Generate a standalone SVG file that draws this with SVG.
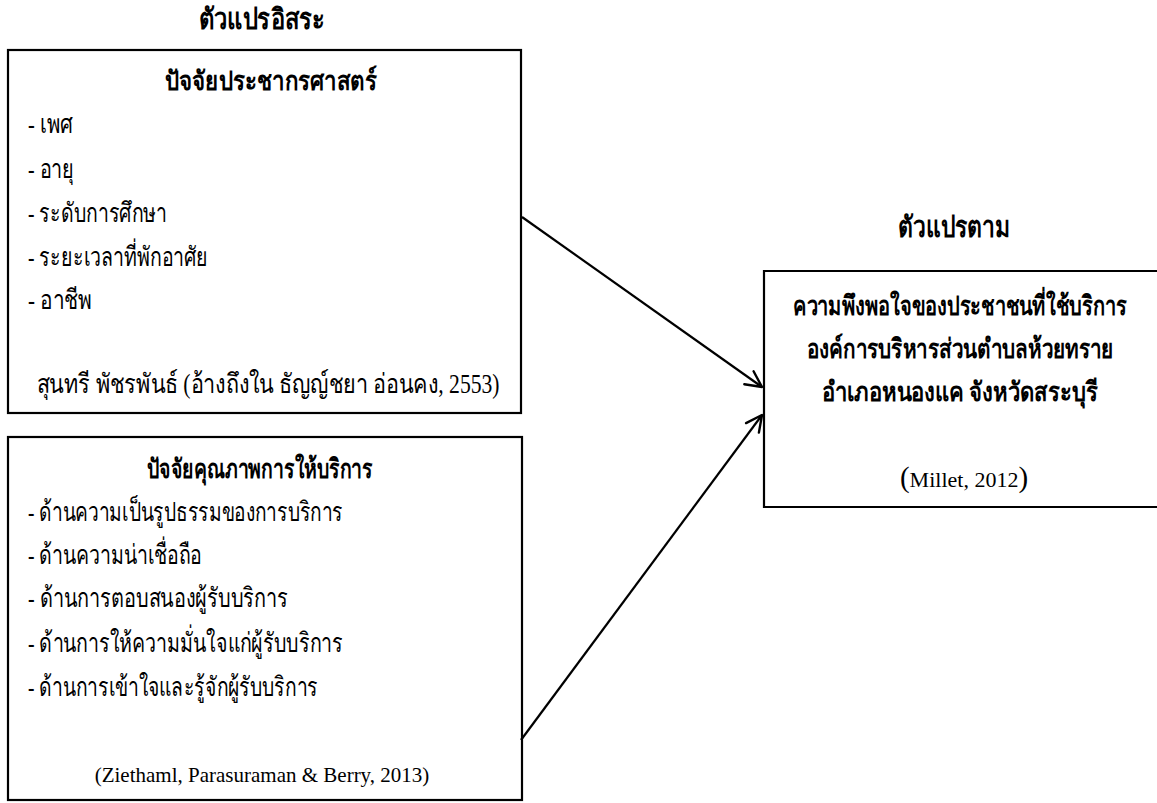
<svg xmlns="http://www.w3.org/2000/svg" width="1157" height="803" viewBox="0 0 1157 803">
<style>
.box{fill:#fff;stroke:#000;stroke-width:2.2}
.t{font-family:"Liberation Serif",serif;fill:#000;font-size:27px}
.b{font-weight:bold}
.c{text-anchor:middle}
.ti{font-size:29px}
.lat{font-size:21px}
.ml{font-size:22px}
.par{font-size:29px}
.ln{stroke:#000;stroke-width:2.2;fill:none}
</style>
<defs>
<marker id="ah" markerUnits="userSpaceOnUse" markerWidth="20" markerHeight="20" viewBox="0 0 20 20" refX="18" refY="10" orient="auto">
<path d="M2,2 L18,10 L2,18" fill="none" stroke="#000" stroke-width="2.4" stroke-linecap="round" stroke-linejoin="round"/>
</marker>
</defs>
<rect width="1157" height="803" fill="#fff"/>
<text class="t b c ti" x="262" y="29" textLength="127" lengthAdjust="spacingAndGlyphs">ตัวแปรอิสระ</text>
<text class="t b c ti" x="954" y="237" textLength="112" lengthAdjust="spacingAndGlyphs">ตัวแปรตาม</text>
<g id="demographic">
<rect class="box" x="8" y="50" width="513" height="363"/>
<text class="t b c" x="271" y="90" textLength="212" lengthAdjust="spacingAndGlyphs">ปัจจัยประชากรศาสตร์</text>
<text class="t" x="28" y="133" textLength="45" lengthAdjust="spacingAndGlyphs">- เพศ</text>
<text class="t" x="28" y="178" textLength="46" lengthAdjust="spacingAndGlyphs">- อายุ</text>
<text class="t" x="28" y="222" textLength="139" lengthAdjust="spacingAndGlyphs">- ระดับการศึกษา</text>
<text class="t" x="28" y="266" textLength="180" lengthAdjust="spacingAndGlyphs">- ระยะเวลาที่พักอาศัย</text>
<text class="t" x="28" y="309" textLength="64" lengthAdjust="spacingAndGlyphs">- อาชีพ</text>
<text class="t c" x="268" y="393" textLength="463" lengthAdjust="spacingAndGlyphs">สุนทรี พัชรพันธ์ (อ้างถึงใน ธัญญ์ชยา อ่อนคง, 2553)</text>
</g>
<g id="service-quality">
<rect class="box" x="8" y="437" width="514" height="363"/>
<text class="t b c" x="260" y="478" textLength="226" lengthAdjust="spacingAndGlyphs">ปัจจัยคุณภาพการให้บริการ</text>
<text class="t" x="28" y="521" textLength="315" lengthAdjust="spacingAndGlyphs">- ด้านความเป็นรูปธรรมของการบริการ</text>
<text class="t" x="28" y="564" textLength="174" lengthAdjust="spacingAndGlyphs">- ด้านความน่าเชื่อถือ</text>
<text class="t" x="28" y="607" textLength="260" lengthAdjust="spacingAndGlyphs">- ด้านการตอบสนองผู้รับบริการ</text>
<text class="t" x="28" y="652" textLength="315" lengthAdjust="spacingAndGlyphs">- ด้านการให้ความมั่นใจแก่ผู้รับบริการ</text>
<text class="t" x="28" y="696" textLength="290" lengthAdjust="spacingAndGlyphs">- ด้านการเข้าใจและรู้จักผู้รับบริการ</text>
<text class="t c lat" x="262" y="782">(Ziethaml, Parasuraman &amp; Berry, 2013)</text>
</g>
<g id="satisfaction">
<rect x="764" y="271" width="393" height="236" fill="#fff"/>
<path class="ln" d="M1157,271 H764 V507 H1157"/>
<text class="t b c" transform="translate(960,315) scale(0.76,1)" x="0" y="0" textLength="439" lengthAdjust="spacingAndGlyphs">ความพึงพอใจของประชาชนที่ใช้บริการ</text>
<text class="t b c" transform="translate(960,358) scale(0.76,1)" x="0" y="0" textLength="403" lengthAdjust="spacingAndGlyphs">องค์การบริหารส่วนตำบลห้วยทราย</text>
<text class="t b c" transform="translate(960,401) scale(0.76,1)" x="0" y="0" textLength="363" lengthAdjust="spacingAndGlyphs">อำเภอหนองแค จังหวัดสระบุรี</text>
<text class="t c ml" x="964" y="487"><tspan class="par">(</tspan>Millet, 2012<tspan class="par">)</tspan></text>
</g>
<g id="connectors">
<line class="ln" x1="522" y1="217" x2="762" y2="387" marker-end="url(#ah)"/>
<line class="ln" x1="521" y1="740" x2="762" y2="415" marker-end="url(#ah)"/>
</g>
</svg>
